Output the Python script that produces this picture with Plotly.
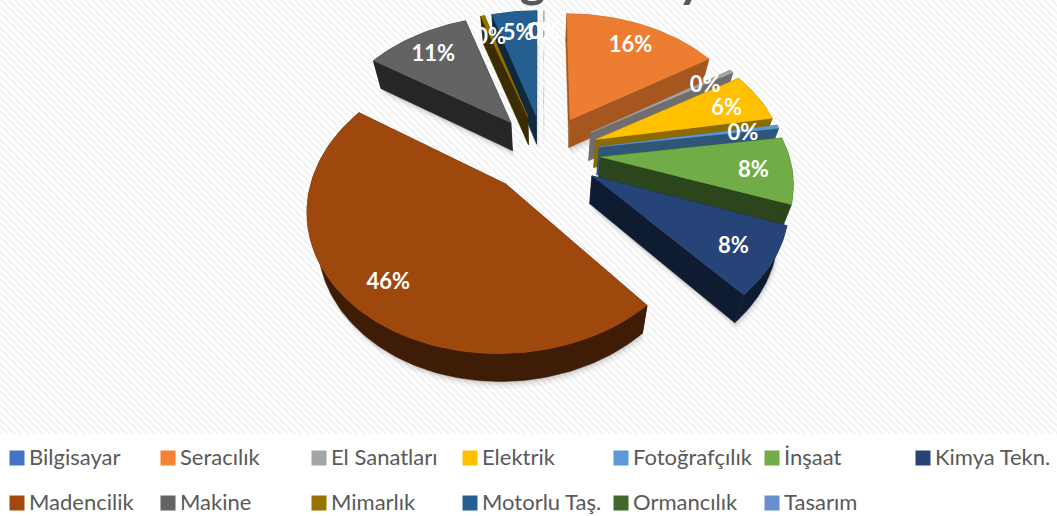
import math
import plotly.graph_objects as go

# ---- data ----
categories = ["Bilgisayar", "Seracılık", "El Sanatları", "Elektrik", "Fotoğrafçılık", "İnşaat", "Kimya Tekn.",
              "Madencilik", "Makine", "Mimarlık", "Motorlu Taş.", "Ormancılık", "Tasarım"]
values = [0.02, 15.9, 0.4, 5.9, 0.4, 7.8, 8.0, 45.6, 10.7, 0.4, 4.6, 0.02, 0.02]
top_colors = ["#4472C4", "#ED7D31", "#A5A5A5", "#FFC000", "#5B9BD5", "#70AD47", "#264478",
              "#9E480E", "#636363", "#997300", "#255E91", "#43682B", "#698ED0"]
side_colors = ["#29457A", "#A5571F", "#6E6E6E", "#8C6A00", "#2F5577", "#2C451C", "#0E1B30",
               "#3E1C05", "#262626", "#3C2D00", "#10293F", "#1F3014", "#3A5077"]
legend_swatches = ["#4472C4", "#F58233", "#A5A5A5", "#FFC000", "#5B9BD5", "#70AD47", "#264478",
                   "#A5480F", "#636363", "#997300", "#255E91", "#43682B", "#698ED0"]
title_text = "Sektörlere göre sayı"

# ---- view of the tilted pie ----
CX, CY, S, SY, PERSP, EXPL, DEPTH, TAPER = 544, 153, 188, 132, 0.157, 0.30, 28, 0.045
LABEL_R, LABEL_DY = 0.80, 4
W, H = 1057, 516


def project(x, y, z=0.0):
    p = 1 / (1 + PERSP * y)
    return CX + S * x * p * (1 - TAPER * z), CY - SY * y * p + DEPTH * z


total = sum(values)
slices = []
acc = 0.0
for i, v in enumerate(values):
    a0 = acc / total * 2 * math.pi
    acc += v
    a1 = acc / total * 2 * math.pi
    mid = (a0 + a1) / 2
    ox, oy = EXPL * math.sin(mid), EXPL * math.cos(mid)
    n = max(2, int((a1 - a0) * 40))
    arc = [(ox + math.sin(a0 + (a1 - a0) * k / n), oy + math.cos(a0 + (a1 - a0) * k / n)) for k in range(n + 1)]
    slices.append(dict(i=i, mid=mid, ox=ox, oy=oy, arc=arc))


def poly(pts, color, opacity=1.0, lw=0.5):
    return go.Scatter(x=[p[0] for p in pts] + [pts[0][0]], y=[p[1] for p in pts] + [pts[0][1]],
                      mode="lines", fill="toself", fillcolor=color, opacity=opacity,
                      line=dict(width=lw, color=color), hoverinfo="skip", showlegend=False)


fig = go.Figure()

# hatched background
hx, hy = [], []
for x0 in range(-440, W, 7):
    hx += [x0, x0 + 434, None]
    hy += [0, 434, None]
fig.add_trace(go.Scatter(x=hx, y=hy, mode="lines", line=dict(color="#F3F3F3", width=2.2),
                         hoverinfo="skip", showlegend=False))

# soft shadows
for s in slices:
    if values[s["i"]] < 1:
        continue
    pts = [project(s["ox"], s["oy"], 1)] + [project(x, y, 1) for x, y in s["arc"]]
    for d, o in ((7, 0.03), (4, 0.05), (2, 0.06)):
        fig.add_trace(poly([(px + d * 0.3, py + d) for px, py in pts], "#000000", o))

# slices, back to front
for s in sorted(slices, key=lambda q: -q["oy"]):
    i = s["i"]
    ax, ay = s["ox"], s["oy"]
    arc = s["arc"]
    lw = 0.5 if values[i] >= 0.1 else 0
    for end in (arc[0], arc[-1]):
        fig.add_trace(poly([project(ax, ay, 0), project(*end, 0), project(*end, 1), project(ax, ay, 1)], side_colors[i], lw=lw))
    fig.add_trace(poly([project(x, y, 0) for x, y in arc] + [project(x, y, 1) for x, y in reversed(arc)], side_colors[i], lw=lw))
    fig.add_trace(poly([project(ax, ay, 0)] + [project(x, y, 0) for x, y in arc], top_colors[i], lw=lw))

# data labels
lx, ly, lt = [], [], []
for s in slices:
    pct = values[s["i"]] / total * 100
    px_, py_ = project(s["ox"] + LABEL_R * math.sin(s["mid"]), s["oy"] + LABEL_R * math.cos(s["mid"]))
    lx.append(px_)
    ly.append(py_ + LABEL_DY)
    lt.append(f"{pct:.0f}%")
fig.add_trace(go.Scatter(x=lx, y=ly, text=lt, mode="text", hoverinfo="skip", showlegend=False,
                         textfont=dict(family="Lato", size=22, color="#FFFFFF", weight="bold")))

# legend, two rows of seven columns
for i, name in enumerate(categories):
    col, row = i % 7, i // 7
    fig.add_trace(go.Scatter(x=[17 + 151 * col], y=[458 + 45 * row], mode="markers",
                             hoverinfo="skip", showlegend=False,
                             marker=dict(symbol="square", size=15, color=legend_swatches[i])))
    fig.add_trace(go.Scatter(x=[29 + 151 * col], y=[459 + 45 * row], text=[name], mode="text",
                             textposition="middle right", hoverinfo="skip", showlegend=False, cliponaxis=False,
                             textfont=dict(family="Lato", size=22, color="#595959")))

fig.update_layout(
    width=W, height=H, margin=dict(l=0, r=0, t=0, b=0), paper_bgcolor="#FFFFFF", plot_bgcolor="#FFFFFF",
    showlegend=False,
    xaxis=dict(range=[0, W], visible=False, fixedrange=True),
    yaxis=dict(range=[H, 0], visible=False, fixedrange=True),
    annotations=[dict(text=f"<b>{title_text}</b>", x=497, y=1, xref="x", yref="paper", xanchor="center",
                      yanchor="bottom", yshift=-10, showarrow=False,
                      font=dict(family="Lato", size=50, color="#595959"))],
)

fig.write_html("out.html", post_script="document.body.style.margin='0';", config=dict(displayModeBar=False))
